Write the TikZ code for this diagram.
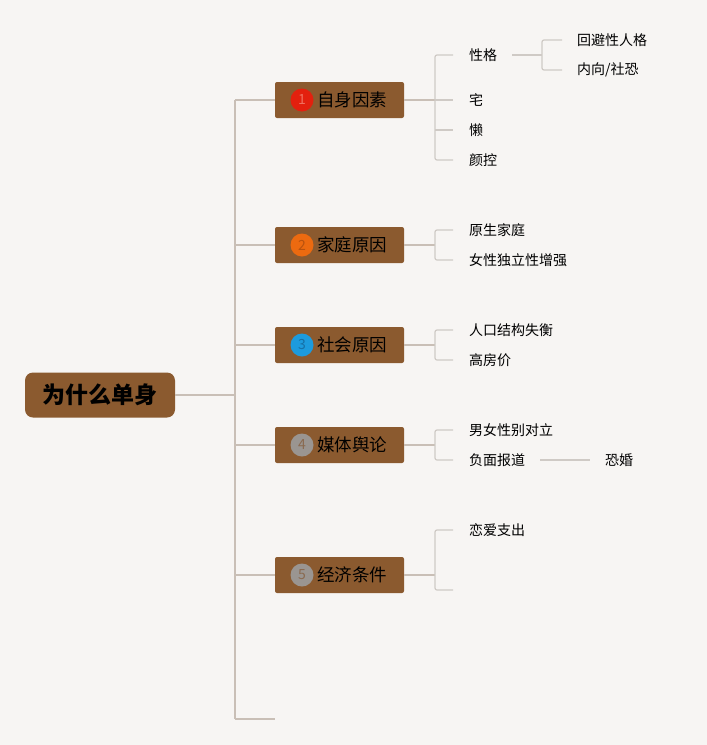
\documentclass[tikz,border=0pt]{standalone}
\usepackage{fontspec}
\setmainfont{Noto Sans CJK SC}
\definecolor{bg}{HTML}{F7F5F3}
\definecolor{boxbrown}{HTML}{8B5A2F}
\definecolor{trunk}{HTML}{C9BFB6}
\definecolor{twig}{HTML}{CFCAC5}
\definecolor{cred}{HTML}{E3200E}
\definecolor{corange}{HTML}{EC6A10}
\definecolor{cblue}{HTML}{1D9BDD}
\definecolor{cgrey}{HTML}{9A9591}
\definecolor{nred}{HTML}{F0705F}
\definecolor{norange}{HTML}{B8520E}
\definecolor{nblue}{HTML}{1670A6}
\definecolor{ngrey}{HTML}{8A6A50}
\tikzset{
  rootbox/.style={draw=none,fill=boxbrown,rounded corners=8pt,minimum width=150pt,minimum height=45pt,inner sep=0pt,font=\fontsize{23}{23}\selectfont\bfseries,text=black},
  topicbox/.style={draw=none,fill=boxbrown,rounded corners=2pt,minimum width=129pt,minimum height=36pt,inner sep=0pt},
  badge/.style={circle,minimum size=23pt,inner sep=0pt,font=\fontsize{14}{14}\selectfont},
  topictext/.style={anchor=west,inner sep=0pt,font=\fontsize{17.5}{17.5}\selectfont,text=black},
  subtext/.style={anchor=west,inner sep=0pt,font=\fontsize{14}{14}\selectfont,text=black},
  trunkline/.style={draw=trunk,line width=1.4pt},
  twigline/.style={draw=twig,line width=1.2pt,rounded corners=2pt}
}
\begin{document}
\begin{tikzpicture}[x=1pt,y=-1pt]
\fill[bg] (0,0) rectangle (707,745);
\useasboundingbox (0,0) rectangle (707,745);

% root
\node[rootbox] (root) at (100,395) {为什么单身};

% trunk coordinates
\coordinate (tr) at (235,395);
\coordinate (j1) at (235,100);
\coordinate (j2) at (235,245);
\coordinate (j3) at (235,345);
\coordinate (j4) at (235,445);
\coordinate (j5) at (235,575);
\coordinate (j6) at (235,719);
\coordinate (e6) at (275,719);

% topics
\node[topicbox] (t1) at (339.5,100) {};
\node[topicbox] (t2) at (339.5,245) {};
\node[topicbox] (t3) at (339.5,345) {};
\node[topicbox] (t4) at (339.5,445) {};
\node[topicbox] (t5) at (339.5,575) {};

\node[badge,fill=cred,text=nred] (b1) at (302,100) {1};
\node[badge,fill=corange,text=norange] (b2) at (302,245) {2};
\node[badge,fill=cblue,text=nblue] (b3) at (302,345) {3};
\node[badge,fill=cgrey,text=ngrey] (b4) at (302,445) {4};
\node[badge,fill=cgrey,text=ngrey] (b5) at (302,575) {5};

\node[topictext] (l1) at (317,100) {自身因素};
\node[topictext] (l2) at (317,245) {家庭原因};
\node[topictext] (l3) at (317,345) {社会原因};
\node[topictext] (l4) at (317,445) {媒体舆论};
\node[topictext] (l5) at (317,575) {经济条件};

% trunk lines
\draw[trunkline] (root.east) -- (tr);
\draw[trunkline] (j1) -- (j6);
\draw[trunkline] (j1) -- (t1.west);
\draw[trunkline] (j2) -- (t2.west);
\draw[trunkline] (j3) -- (t3.west);
\draw[trunkline] (j4) -- (t4.west);
\draw[trunkline] (j5) -- (t5.west);
\draw[trunkline] (j6) -- (e6);

% subtopics
\node[subtext] (s11) at (469,55) {性格};
\node[subtext] (s12) at (469,100) {宅};
\node[subtext] (s13) at (469,130) {懒};
\node[subtext] (s14) at (469,160) {颜控};
\node[subtext] (s111) at (577,40) {回避性人格};
\node[subtext] (s112) at (577,70) {内向/社恐};

\node[subtext] (s21) at (469,230) {原生家庭};
\node[subtext] (s22) at (469,260) {女性独立性增强};

\node[subtext] (s31) at (469,330) {人口结构失衡};
\node[subtext] (s32) at (469,360) {高房价};

\node[subtext] (s41) at (469,430) {男女性别对立};
\node[subtext] (s42) at (469,460) {负面报道};
\node[subtext] (s421) at (605,460) {恐婚};

\node[subtext] (s51) at (469,530) {恋爱支出};
\coordinate (s52) at (453,590);

% topic 1 connectors
\coordinate (k1) at (435,100);
\draw[trunkline] (t1.east) -- (k1);
\draw[twigline] ([xshift=-16pt]s11.west) -- (435,55) -- (435,160) -- ([xshift=-16pt]s14.west);
\draw[twigline] (k1) -- ([xshift=-16pt]s12.west);
\draw[twigline] (435,130) -- ([xshift=-16pt]s13.west);
\draw[twigline] ([xshift=15pt]s11.east) -- (542,55);
\draw[twigline] ([xshift=-15pt]s111.west) -- (542,40) -- (542,70) -- ([xshift=-15pt]s112.west);

% topic 2
\draw[trunkline] (t2.east) -- (435,245);
\draw[twigline] ([xshift=-16pt]s21.west) -- (435,230) -- (435,260) -- ([xshift=-16pt]s22.west);

% topic 3
\draw[trunkline] (t3.east) -- (435,345);
\draw[twigline] ([xshift=-16pt]s31.west) -- (435,330) -- (435,360) -- ([xshift=-16pt]s32.west);

% topic 4
\draw[trunkline] (t4.east) -- (435,445);
\draw[twigline] ([xshift=-16pt]s41.west) -- (435,430) -- (435,460) -- ([xshift=-16pt]s42.west);
\draw[twigline] ([xshift=15pt]s42.east) -- ([xshift=-15pt]s421.west);

% topic 5
\draw[trunkline] (t5.east) -- (435,575);
\draw[twigline] ([xshift=-16pt]s51.west) -- (435,530) -- (435,590) -- (s52);
\end{tikzpicture}
\end{document}
